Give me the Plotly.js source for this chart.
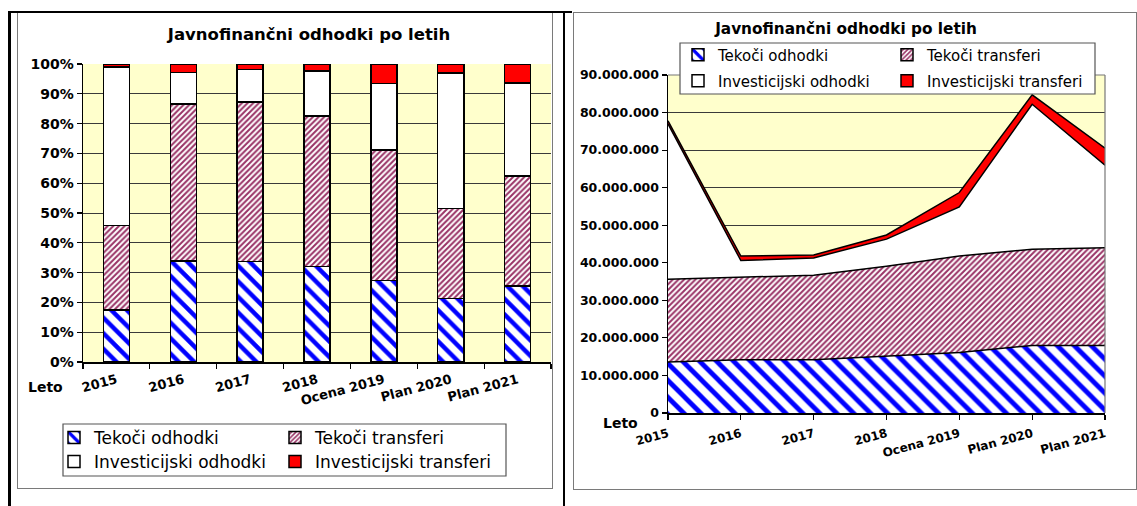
<!DOCTYPE html>
<html><head><meta charset="utf-8">
<script src="https://cdn.plot.ly/plotly-3.0.1.min.js"></script>
<style>
html,body{margin:0;padding:0;background:#fff;width:1137px;height:506px;overflow:hidden;position:relative;}
#left{position:absolute;left:0;top:0;width:566px;height:506px;}
#right{position:absolute;left:566px;top:0;width:571px;height:506px;}
.ln{position:absolute;background:#000;pointer-events:none;}
.fr{position:absolute;border:1.5px solid #7a7a7a;box-sizing:border-box;pointer-events:none;}
</style></head><body>
<div id="left"></div><div id="right"></div>
<div class="fr" style="left:17px;top:12px;width:536px;height:477px"></div>
<div class="fr" style="left:573px;top:12px;width:564px;height:478px"></div>
<div class="ln" style="left:8px;top:11px;width:3px;height:495px"></div>
<div class="ln" style="left:8px;top:11px;width:564px;height:2px"></div>
<div class="ln" style="left:563px;top:11px;width:2px;height:495px"></div>
<script>
// ---- data (EUR) ----
const leta = ['2015','2016','2017','2018','Ocena 2019','Plan 2020','Plan 2021'];
const tekociOdhodki          = [13600000, 14200000, 14200000, 15200000, 16100000, 18000000, 18000000];
const tekociTransferi        = [22000000, 22000000, 22500000, 23900000, 25700000, 25600000, 26000000];
const investicijskiOdhodki   = [41400000,  4400000,  4600000,  7200000, 13100000, 38600000, 22000000];
const investicijskiTransferi = [  800000,  1200000,   800000,  1100000,  3800000,  2500000,  4500000];
const imena = ['Tekoči odhodki','Tekoči transferi','Investicijski odhodki','Investicijski transferi'];
const naslov = 'Javnofinančni odhodki po letih';

const FONT = 'DejaVu Sans';
const styles = [
  {pattern:{shape:'\\', fgcolor:'#0000ff', bgcolor:'#ffffff', size:11, solidity:0.4, fillmode:'replace'}, color:'#ffffff'},
  {pattern:{shape:'/', fgcolor:'#993366', bgcolor:'#ffffff', size:4, solidity:0.5, fillmode:'replace'}, color:'#ffffff'},
  {pattern:null, color:'#ffffff'},
  {pattern:null, color:'#ff0000'}
];
const series = [tekociOdhodki, tekociTransferi, investicijskiOdhodki, investicijskiTransferi];
const legendOf = ['legend','legend','legend2','legend2'];

// ---------------- LEFT: 100% stacked bars ----------------
const W1=566, H1=506, m1={l:83,r:15,t:64,b:144};
const pw1=W1-m1.l-m1.r, ph1=H1-m1.t-m1.b;
const lx=px=>(px-m1.l)/pw1, ly=py=>(H1-m1.b-py)/ph1;

const leftTraces = series.map((s,i)=>{
  const mk = {color: styles[i].color, line:{color:'#000', width:1.5}};
  if(styles[i].pattern) mk.pattern = styles[i].pattern;
  return {type:'bar', x:leta, y:s, name:imena[i], marker:mk, legend:legendOf[i], hoverinfo:'skip'};
});

const legBase = {orientation:'h', xref:'container', yref:'container', xanchor:'left', yanchor:'middle',
                 traceorder:'normal', bgcolor:'rgba(0,0,0,0)', borderwidth:0, indentation:-10};

const leftLayout = {
  width:W1, height:H1, margin:{...m1, autoexpand:false},
  paper_bgcolor:'rgba(0,0,0,0)', plot_bgcolor:'#ffffcc',
  barmode:'stack', barnorm:'percent', bargap:0.61,
  font:{family:FONT, color:'#000'},
  title:{text:naslov, xref:'container', yref:'container', x:309/W1, y:1-34/H1, xanchor:'center', yanchor:'middle',
         font:{family:FONT, size:16.5, weight:'bold', color:'#000'}},
  xaxis:{type:'category', tickson:'boundaries', ticks:'outside', ticklen:5, tickcolor:'#000', tickwidth:1.2,
         showline:true, linecolor:'#000', linewidth:1.5, showgrid:false, tickangle:-15, ticklabelstandoff:4,
         tickfont:{family:FONT, size:13, weight:'bold', color:'#000'}, fixedrange:true},
  yaxis:{range:[0,100], dtick:10, ticksuffix:'%', ticks:'outside', ticklen:5, tickcolor:'#000', tickwidth:1.2,
         showline:true, linecolor:'#000', linewidth:1.5, gridcolor:'#3a3a3a', gridwidth:1, zeroline:false,
         tickfont:{family:FONT, size:14, weight:'bold', color:'#000'}, fixedrange:true},
  annotations:[{text:'Leto', xref:'paper', yref:'paper', x:lx(45), y:ly(387), showarrow:false,
                xanchor:'center', yanchor:'middle', font:{family:FONT, size:14, weight:'bold', color:'#000'}}],
  shapes:[{type:'rect', xref:'paper', yref:'paper', x0:lx(63), x1:lx(506), y0:ly(476), y1:ly(424),
           line:{color:'#555', width:1.2}, fillcolor:'#ffffff', layer:'below'}],
  showlegend:true,
  legend:{...legBase, x:64/W1, y:1-438/H1, entrywidth:186, font:{family:FONT, size:17, color:'#000'}},
  legend2:{...legBase, x:64/W1, y:1-462/H1, entrywidth:186, font:{family:FONT, size:17, color:'#000'}}
};
Plotly.newPlot('left', leftTraces, leftLayout, {staticPlot:true, displayModeBar:false});

// ---------------- RIGHT: stacked areas ----------------
const W2=571, H2=506, m2={l:102,r:32,t:75,b:93};
const pw2=W2-m2.l-m2.r, ph2=H2-m2.t-m2.b;
const OX=566;
const rx=px=>(px-OX-m2.l)/pw2, ry=py=>(H2-m2.b-py)/ph2;

const areaTraces = series.map((s,i)=>{
  const t = {type:'scatter', mode:'lines', x:leta, y:s, stackgroup:'one', name:imena[i], showlegend:false,
             line:{color:'#000', width:1.5}, fillcolor:styles[i].color, hoverinfo:'skip'};
  if(styles[i].pattern) t.fillpattern = {...styles[i].pattern, size: i===0 ? 12 : 4};
  return t;
});
const legendDummies = series.map((s,i)=>{
  const mk = {color: styles[i].color, line:{color:'#000', width:1.5}};
  if(styles[i].pattern) mk.pattern = styles[i].pattern;
  return {type:'bar', x:leta, y:s.map(()=>null), name:imena[i], marker:mk, legend:legendOf[i], hoverinfo:'skip'};
});

const rightLayout = {
  width:W2, height:H2, margin:{...m2, autoexpand:false},
  paper_bgcolor:'rgba(0,0,0,0)', plot_bgcolor:'#ffffcc',
  separators:',.',
  font:{family:FONT, color:'#000'},
  title:{text:naslov, xref:'container', yref:'container', x:(846-OX)/W2, y:1-29/H2, xanchor:'center', yanchor:'middle',
         font:{family:FONT, size:15.3, weight:'bold', color:'#000'}},
  xaxis:{type:'category', range:[0,6], ticks:'outside', ticklen:5, tickcolor:'#000', tickwidth:1.2,
         showline:true, linecolor:'#000', linewidth:1.5, showgrid:false, tickangle:-15, ticklabelstandoff:3,
         tickfont:{family:FONT, size:12, weight:'bold', color:'#000'}, fixedrange:true},
  yaxis:{range:[0,90000000], dtick:10000000, tickformat:',d', ticks:'outside', ticklen:5, tickcolor:'#000', tickwidth:1.2,
         showline:true, linecolor:'#000', linewidth:1.5, gridcolor:'#3a3a3a', gridwidth:1, zeroline:false,
         tickfont:{family:FONT, size:12.5, weight:'bold', color:'#000'}, fixedrange:true},
  annotations:[{text:'Leto', xref:'paper', yref:'paper', x:rx(620), y:ry(423), showarrow:false,
                xanchor:'center', yanchor:'middle', font:{family:FONT, size:14, weight:'bold', color:'#000'}}],
  shapes:[
    {type:'line', xref:'paper', yref:'paper', x0:1, x1:1, y0:0, y1:1, line:{color:'#777', width:1.2}, layer:'above'},
    {type:'line', xref:'paper', yref:'paper', x0:0, x1:1, y0:1, y1:1, line:{color:'#777', width:1.2}, layer:'above'},
    {type:'rect', xref:'paper', yref:'paper', x0:rx(680), x1:rx(1095), y0:ry(94), y1:ry(43),
     line:{color:'#555', width:1.2}, fillcolor:'#ffffff', layer:'above'}],
  showlegend:true, barmode:'group',
  legend:{...legBase, x:(688-OX)/W2, y:1-55/H2, entrywidth:174, font:{family:FONT, size:15, color:'#000'}},
  legend2:{...legBase, x:(688-OX)/W2, y:1-81/H2, entrywidth:174, font:{family:FONT, size:15, color:'#000'}}
};
Plotly.newPlot('right', areaTraces.concat(legendDummies), rightLayout, {staticPlot:true, displayModeBar:false});
</script>
</body></html>
